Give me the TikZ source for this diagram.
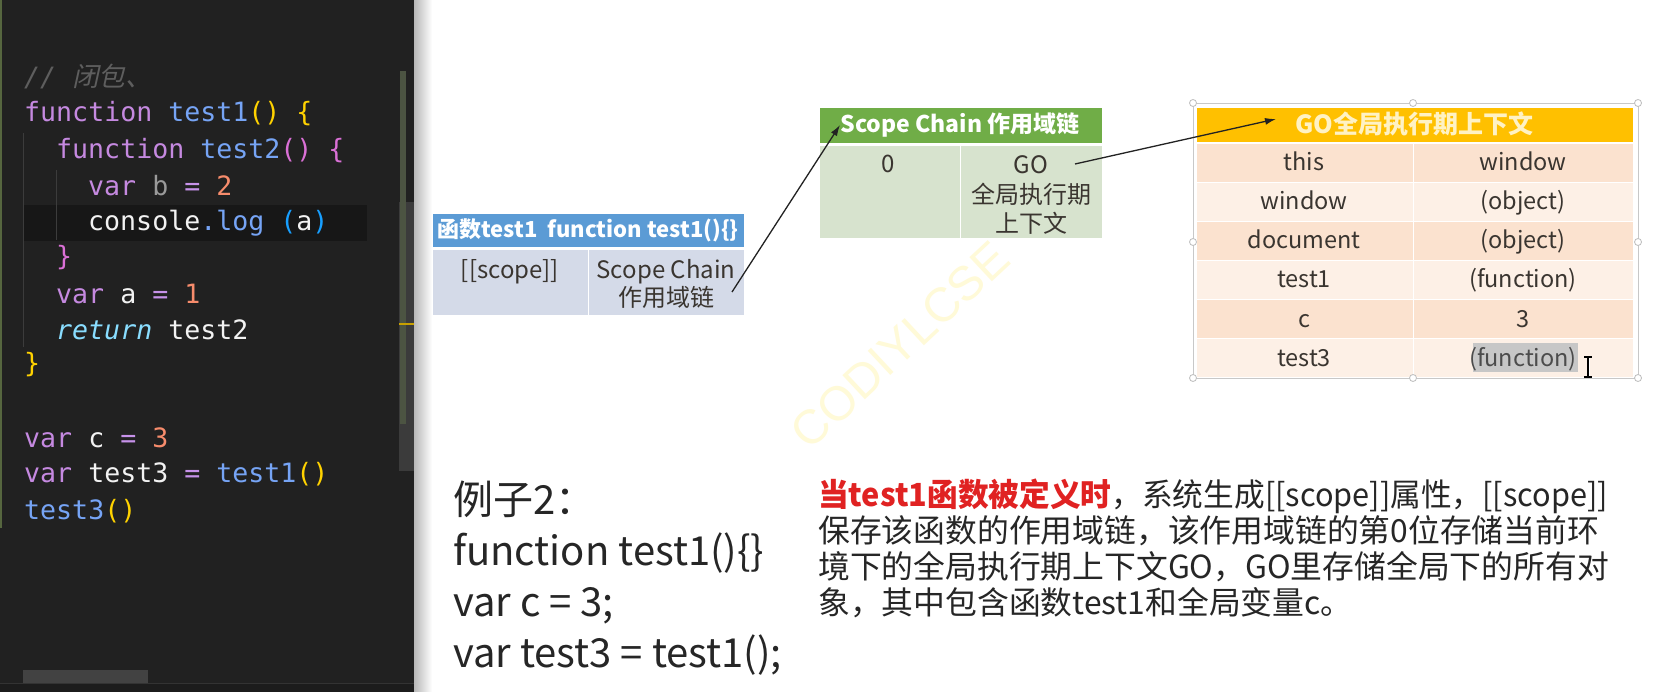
\documentclass[tikz,border=0pt]{standalone}
\usepackage{fontspec}
\setmainfont{Liberation Sans}
\newfontfamily\cjk{Noto Sans CJK SC}
\newfontfamily\cjkit[FakeSlant=0.22]{Noto Sans CJK SC}
\newfontfamily\codefont{DejaVu Sans Mono}
\usetikzlibrary{arrows.meta}
\definecolor{editorbg}{HTML}{212121}
\definecolor{hiline}{HTML}{171717}
\definecolor{guide}{HTML}{3C3C3C}
\definecolor{cmt}{HTML}{5E5E5E}
\definecolor{kw}{HTML}{C589E0}
\definecolor{fn}{HTML}{76A4F5}
\definecolor{yl}{HTML}{FFD200}
\definecolor{mg}{HTML}{DA70D6}
\definecolor{brblue}{HTML}{179FFF}
\definecolor{num}{HTML}{F78C6C}
\definecolor{codewhite}{HTML}{F2F2F2}
\definecolor{dimgray}{HTML}{9A9A9A}
\definecolor{eqc}{HTML}{C792EA}
\definecolor{ret}{HTML}{89DDFF}
\definecolor{trackc}{HTML}{3B3B3B}
\definecolor{olivec}{HTML}{4C5442}
\definecolor{markyel}{HTML}{C8A000}
\definecolor{hscroll}{HTML}{424242}
\definecolor{statusbg}{HTML}{1C1C1C}
\definecolor{leftedge}{HTML}{56663F}
\definecolor{bluehd}{HTML}{5B9BD5}
\definecolor{bluebody}{HTML}{D4DAE8}
\definecolor{greenhd}{HTML}{70AD47}
\definecolor{greenbody}{HTML}{D7E3CE}
\definecolor{gohd}{HTML}{FFC000}
\definecolor{gotext}{HTML}{FFF2C4}
\definecolor{rowA}{HTML}{FBE2CF}
\definecolor{rowB}{HTML}{FDF0E6}
\definecolor{txt}{HTML}{262626}
\definecolor{tabtxt}{HTML}{3A3530}
\definecolor{redtxt}{HTML}{E02222}
\definecolor{arrowc}{HTML}{222222}
\definecolor{handlegray}{HTML}{BDBDBD}
\definecolor{selgray}{HTML}{C8C8C8}
\definecolor{wmc}{HTML}{FFFAD8}
\begin{document}
\begin{tikzpicture}[x=1pt,y=-1pt,
  code/.style={font=\codefont\fontsize{26.6}{30}\selectfont, inner sep=0pt, anchor=base west, text=codewhite},
  st/.style={inner sep=0pt, anchor=base, text=txt},
  tb/.style={st, font=\cjk\fontsize{24}{28}\selectfont, text=tabtxt},
  gotb/.style={st, font=\cjk\fontsize{23.5}{27}\selectfont, text=tabtxt},
  para/.style={inner sep=0pt, anchor=base west, text=txt, font=\cjk\fontsize{31.8}{36}\selectfont},
  expl/.style={inner sep=0pt, anchor=base west, text=txt, font=\cjk\fontsize{40}{48}\selectfont},
  cell/.style={inner sep=0pt, anchor=north west, draw=white, line width=1pt},
  handle/.style={circle, draw=handlegray, fill=white, inner sep=0pt, minimum size=7pt, line width=0.8pt},
  arr/.style={-{Latex[length=11pt,width=7pt]}, line width=1.3pt, draw=arrowc},
]
\useasboundingbox (0,0) rectangle (1661,692);
\fill[white] (0,0) rectangle (1661,692);
% ---------- editor panel ----------
\fill[editorbg] (0,0) rectangle (414,692);
\fill[leftedge] (0,0) rectangle (2,528);
\fill[hiline] (24,205) rectangle (367,241);
\draw[guide, line width=1pt] (23.5,133) -- (23.5,347);
\draw[guide, line width=1pt] (56.5,170) -- (56.5,240);
\fill[trackc] (399,202) rectangle (414,471);
\fill[olivec] (400,71) rectangle (406,424);
\draw[markyel, line width=1.5pt] (399,324) -- (414,324);
\fill[hscroll] (23,670) rectangle (148,683);
\fill[statusbg] (0,684) rectangle (414,692);
\draw[black!80, line width=0.8pt] (0,683.5) -- (414,683.5);
% code lines
\node[code] (c1) at (24,87) {\textcolor{cmt}{\itshape // {\cjkit 闭包、}}};
\node[code] (c2) at (24,122) {\textcolor{kw}{function} \textcolor{fn}{test1}\textcolor{yl}{() \{}};
\node[code] (c3) at (56,159) {\textcolor{kw}{function} \textcolor{fn}{test2}\textcolor{mg}{() \{}};
\node[code] (c4) at (88,196) {\textcolor{kw}{var} \textcolor{dimgray}{b} \textcolor{eqc}{=} \textcolor{num}{2}};
\node[code] (c5) at (88,231) {console\textcolor{fn}{.log} \textcolor{brblue}{(}a\textcolor{brblue}{)}};
\node[code] (c6) at (56,266) {\textcolor{mg}{\}}};
\node[code] (c7) at (56,304) {\textcolor{kw}{var} a \textcolor{eqc}{=} \textcolor{num}{1}};
\node[code] (c8) at (56,339) {\textcolor{ret}{\itshape return} test2};
\node[code] (c9) at (24,372) {\textcolor{yl}{\}}};
\node[code] (c10) at (24,447) {\textcolor{kw}{var} c \textcolor{eqc}{=} \textcolor{num}{3}};
\node[code] (c11) at (24,482) {\textcolor{kw}{var} test3 \textcolor{eqc}{=} \textcolor{fn}{test1}\textcolor{yl}{()}};
\node[code] (c12) at (24,519) {\textcolor{fn}{test3}\textcolor{yl}{()}};
% ---------- slide ----------
\shade[left color=black!28, right color=white] (414,0) rectangle (432,692);
\node[rotate=43, text=wmc, font=\fontsize{48}{52}\selectfont, inner sep=0pt] (wmark) at (900,345) {CODIYLCSE};
% blue table
\node[cell, fill=bluehd, minimum width=312, minimum height=34] (bh) at (432,213) {};
\node[cell, fill=bluebody, minimum width=156, minimum height=66] (bleft) at (432,249) {};
\node[cell, fill=bluebody, minimum width=156, minimum height=66] (bright) at (588,249) {};
\node[st, font=\cjk\fontsize{22}{26}\selectfont\bfseries, text=white] (bht) at (588,238) {函数test1\hspace{0.45em}function test1()\{\}};
\node[tb] (blt) at (510,279) {[[scope]]};
\node[tb] (brt1) at (666,279) {Scope Chain};
\node[tb] (brt2) at (666,307) {作用域链};
% green table
\node[cell, fill=greenhd, minimum width=283, minimum height=36] (gh) at (819,107) {};
\node[cell, fill=greenbody, minimum width=141, minimum height=93] (gl) at (819,145) {};
\node[cell, fill=greenbody, minimum width=142, minimum height=93] (gr) at (960,145) {};
\node[st, font=\cjk\fontsize{23}{27}\selectfont\bfseries, text=white] (ght) at (960,133) {Scope Chain 作用域链};
\node[tb] (glt) at (888,173) {0};
\node[tb] (grt1) at (1031,174) {GO};
\node[tb] (grt2) at (1031,204) {全局执行期};
\node[tb] (grt3) at (1031,233) {上下文};
% GO table
\draw[selgray, line width=0.8pt] (1193,103) rectangle (1638,378);
\node[cell, fill=gohd, minimum width=437, minimum height=35] (oh) at (1196,107) {};
\node[cell, fill=rowA, minimum width=217, minimum height=39] (r1l) at (1196,143) {};
\node[cell, fill=rowA, minimum width=220, minimum height=39] (r1r) at (1413,143) {};
\node[cell, fill=rowB, minimum width=217, minimum height=39] (r2l) at (1196,182) {};
\node[cell, fill=rowB, minimum width=220, minimum height=39] (r2r) at (1413,182) {};
\node[cell, fill=rowA, minimum width=217, minimum height=39] (r3l) at (1196,221) {};
\node[cell, fill=rowA, minimum width=220, minimum height=39] (r3r) at (1413,221) {};
\node[cell, fill=rowB, minimum width=217, minimum height=39] (r4l) at (1196,260) {};
\node[cell, fill=rowB, minimum width=220, minimum height=39] (r4r) at (1413,260) {};
\node[cell, fill=rowA, minimum width=217, minimum height=39] (r5l) at (1196,299) {};
\node[cell, fill=rowA, minimum width=220, minimum height=39] (r5r) at (1413,299) {};
\node[cell, fill=rowB, minimum width=217, minimum height=39] (r6l) at (1196,338) {};
\node[cell, fill=rowB, minimum width=220, minimum height=39] (r6r) at (1413,338) {};
\node[st, font=\cjk\fontsize{25}{29}\selectfont\bfseries, text=gotext] (oht) at (1414,133.5) {GO全局执行期上下文};
\node[gotb] (t1l) at (1304,171) {this};
\node[gotb] (t1r) at (1523,171) {window};
\node[gotb] (t2l) at (1304,210) {window};
\node[gotb] (t2r) at (1523,210) {(object)};
\node[gotb] (t3l) at (1304,249) {document};
\node[gotb] (t3r) at (1523,249) {(object)};
\node[gotb] (t4l) at (1304,288) {test1};
\node[gotb] (t4r) at (1523,288) {(function)};
\node[gotb] (t5l) at (1304,327) {c};
\node[gotb] (t5r) at (1523,327) {3};
\node[gotb] (t6l) at (1304,366) {test3};
\node[fill=black!22, inner sep=0pt, minimum width=105, minimum height=29] (selbg) at (1525.5,357.5) {};
\node[gotb, text=black!70] (t6r) at (1523,366) {(function)};
\node[handle] (h1) at (1193,103) {};
\node[handle] (h2) at (1413,103) {};
\node[handle] (h3) at (1638,103) {};
\node[handle] (h4) at (1193,242) {};
\node[handle] (h5) at (1638,242) {};
\node[handle] (h6) at (1193,378) {};
\node[handle] (h7) at (1413,378) {};
\node[handle] (h8) at (1638,378) {};
% I-beam cursor
\coordinate (ib1) at (1588,357);
\coordinate (ib2) at (1588,377);
\draw[white, line width=3pt] (ib1) -- (ib2);
\draw[black, line width=1.4pt] (ib1) -- (ib2);
\draw[black, line width=1.2pt] ([xshift=-4pt]ib1) -- ([xshift=4pt]ib1);
\draw[black, line width=1.2pt] ([xshift=-4pt]ib2) -- ([xshift=4pt]ib2);
% arrows
\coordinate (a1s) at (732,292);
\coordinate (a1e) at (840,125);
\coordinate (a2s) at (1075,164);
\coordinate (a2e) at (1276,119);
\draw[arr] (a1s) -- (a1e);
\draw[arr] (a2s) -- (a2e);
% example text
\node[expl] (e1) at (453,514) {例子2：};
\node[expl] (e2) at (453,565) {function test1()\{\}};
\node[expl] (e3) at (453,616) {var c = 3;};
\node[expl] (e4) at (453,667) {var test3 = test1();};
% paragraph
\node[para] (p1) at (818,506) {\scalebox{0.965}[1]{\textcolor{redtxt}{\bfseries 当test1函数被定义时}，系统生成[[scope]]属性，[[scope]]}};
\node[para] (p2) at (818,542) {保存该函数的作用域链，该作用域链的第0位存储当前环};
\node[para] (p3) at (818,578) {境下的全局执行期上下文GO，GO里存储全局下的所有对};
\node[para] (p4) at (818,614) {象，其中包含函数test1和全局变量c。};
\end{tikzpicture}
\end{document}
